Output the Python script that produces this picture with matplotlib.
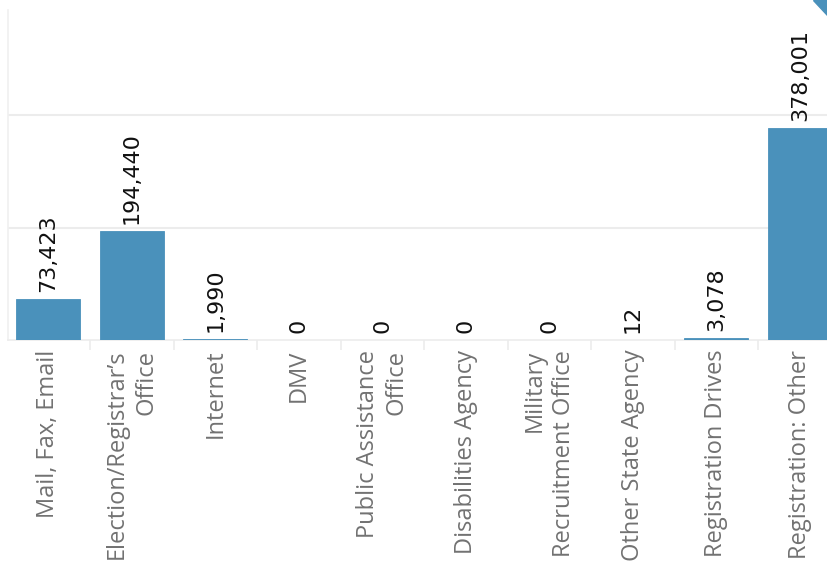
import matplotlib
matplotlib.use('Agg')

import matplotlib.pyplot as plt
from matplotlib.patches import Polygon

categories = [
    "Mail, Fax, Email",
    "Election/Registrar\u2019s\nOffice",
    "Internet",
    "DMV",
    "Public Assistance\nOffice",
    "Disabilities Agency",
    "Military\nRecruitment Office",
    "Other State Agency",
    "Registration Drives",
    "Registration: Other",
]
counts = [73423, 194440, 1990, 0, 0, 0, 0, 12, 3078, 378001]

bar_color = "#4a91bb"
grid_color = "#ececec"

fig = plt.figure(figsize=(8.27, 5.65), dpi=100)
W, H = 827, 565
# axes in pixel terms: left 8, right 827, baseline 340, top 10
ax = fig.add_axes([8 / W, (H - 340) / H, (827 - 8) / W, (340 - 10) / H])

x = list(range(len(categories)))
ax.bar(x, counts, width=0.77, color=bar_color, edgecolor=bar_color,
       linewidth=0.6, zorder=3)

ax.set_xlim(-0.482, 9.326)
ax.set_ylim(0, 587400)

for xi, v in zip(x, counts):
    ax.annotate(f"{v:,}", (xi, v), xytext=(0, 5), textcoords="offset points",
                rotation=90, ha="center", va="bottom", fontsize=16,
                color="#111111", family="DejaVu Sans", clip_on=False)

# gridlines
ax.set_yticks([200000, 400000])
ax.yaxis.grid(True, color=grid_color, linewidth=1.5, zorder=0)
ax.tick_params(axis="y", left=False, labelleft=False)

ax.set_xticks(x)
ax.set_xticklabels(categories, rotation=90, fontsize=17, color="#727272",
                   family="Open Sans", va="top", ha="center", linespacing=1.28)
for lab in ax.get_xticklabels():
    lab.set_multialignment("right")
ax.set_xticks([i + 0.5 for i in range(len(categories) - 1)], minor=True)
ax.tick_params(axis="x", which="major", length=0, pad=7)
ax.tick_params(axis="x", which="minor", length=7.5, width=1.2, color=grid_color)

for s in ["top", "right"]:
    ax.spines[s].set_visible(False)
ax.spines["left"].set_color("#f0f0f0")
ax.spines["left"].set_linewidth(1.2)
ax.spines["bottom"].set_color(grid_color)
ax.spines["bottom"].set_linewidth(1.2)

# corner mark in top right
tri = Polygon([(813 / W, 1.0), (1.0, 1.0), (1.0, (H - 15) / H)],
              closed=True, transform=fig.transFigure, color=bar_color)
fig.patches.append(tri)

fig.savefig("out.png", dpi=100)
